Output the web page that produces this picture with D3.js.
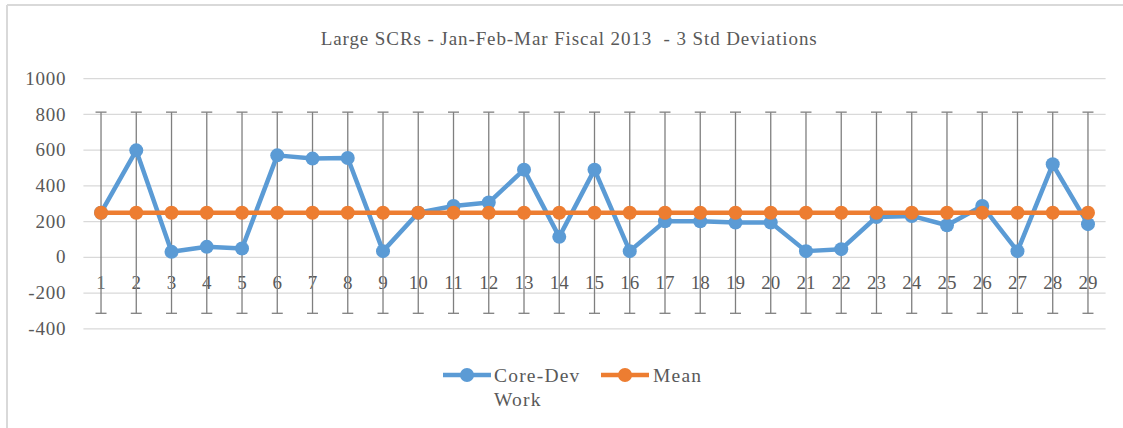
<!DOCTYPE html>
<html><head><meta charset="utf-8">
<script src="https://cdn.jsdelivr.net/npm/d3@7"></script>
<style>body{margin:0;background:#fff;}svg{display:block;}</style>
</head><body>
<svg id="c" width="1123" height="428"></svg>
<script>
const categories = ["1","2","3","4","5","6","7","8","9","10","11","12","13","14","15","16","17","18","19","20","21","22","23","24","25","26","27","28","29"];
const coreDevWork = [247,596,28,56,47,568,550,553,32,247,285,304,488,112,488,32,199,199,192,192,32,43,223,229,177,285,32,518,183];
const meanValue = 247;
const meanSeries = categories.map(() => meanValue);
const errorHigh = 810;
const errorLow = -316;
const yTicks = [-400,-200,0,200,400,600,800,1000];
const title = "Large SCRs - Jan-Feb-Mar Fiscal 2013  - 3 Std Deviations";
const seriesNames = ["Core-Dev Work","Mean"];

const svg = d3.select("#c");
const font = "'Liberation Serif','Times New Roman',serif";
const textCol = "#595959";

// chart border (left and top)
svg.append("line").attr("x1",7).attr("x2",7).attr("y1",5).attr("y2",428).attr("stroke","#d9d9d9").attr("stroke-width",2);
svg.append("line").attr("x1",7).attr("x2",1123).attr("y1",5).attr("y2",5).attr("stroke","#d9d9d9").attr("stroke-width",2);

const x = d3.scaleBand().domain(categories).range([83.4,1105.6]);
const y = d3.scaleLinear().domain([-400,1000]).range([328.3,78.2]);
const cx = d => x(d) + x.bandwidth()/2;

// gridlines + y labels
const yAxis = d3.axisLeft(y).tickValues(yTicks).tickSize(-(1105.6-83.4)).tickFormat(d => String(d)).tickPadding(17);
const gy = svg.append("g").attr("transform","translate(83.4,0)").call(yAxis)
  .attr("font-family",font).attr("font-size",19);
gy.select(".domain").remove();
gy.selectAll(".tick line").attr("stroke","#d9d9d9").attr("stroke-width",1.3);
gy.selectAll(".tick text").attr("fill",textCol).style("letter-spacing","0.8px");

// x axis labels at zero
const xAxis = d3.axisBottom(x).tickSize(0).tickPadding(19);
const gx = svg.append("g").attr("transform",`translate(0,${y(0)})`).call(xAxis)
  .attr("font-family",font).attr("font-size",19);
gx.select(".domain").remove();
gx.selectAll(".tick text").attr("fill",textCol);

// error bars on Mean series
const eb = svg.append("g").attr("stroke","#7f7f7f").attr("stroke-width",1.3);
categories.forEach(c => {
  const px = cx(c);
  eb.append("line").attr("x1",px).attr("x2",px).attr("y1",y(errorHigh)).attr("y2",y(errorLow));
  eb.append("line").attr("x1",px-5.5).attr("x2",px+5.5).attr("y1",y(errorHigh)).attr("y2",y(errorHigh));
  eb.append("line").attr("x1",px-5.5).attr("x2",px+5.5).attr("y1",y(errorLow)).attr("y2",y(errorLow));
});

const line = d3.line().x((d,i)=>cx(categories[i])).y(d=>y(d));
function drawSeries(vals,color){
  svg.append("path").datum(vals).attr("d",line).attr("fill","none").attr("stroke",color).attr("stroke-width",4.5).attr("stroke-linejoin","round");
  svg.append("g").selectAll("circle").data(vals).join("circle")
    .attr("cx",(d,i)=>cx(categories[i])).attr("cy",d=>y(d)).attr("r",7).attr("fill",color);
}
drawSeries(coreDevWork,"#5b9bd5");
drawSeries(meanSeries,"#ed7d31");

// title
svg.append("text").attr("x",320.7).attr("y",45).attr("fill",textCol)
  .attr("textLength",496).attr("lengthAdjust","spacing").attr("xml:space","preserve")
  .style("white-space","pre")
  .style("font-family",font).style("font-size","19px").text(title);

// legend
const legend = [{name:seriesNames[0],color:"#5b9bd5",x:443},{name:seriesNames[1],color:"#ed7d31",x:601}];
legend.forEach(l=>{
  const g = svg.append("g");
  g.append("line").attr("x1",l.x).attr("x2",l.x+48).attr("y1",375).attr("y2",375).attr("stroke",l.color).attr("stroke-width",4.5);
  g.append("circle").attr("cx",l.x+24).attr("cy",375).attr("r",7).attr("fill",l.color);
});
const t1 = svg.append("text").attr("x",494).attr("y",382).attr("fill",textCol).style("font-family",font).style("font-size","19.5px").style("letter-spacing","1.2px");
t1.append("tspan").attr("x",494).text("Core-Dev");
t1.append("tspan").attr("x",494).attr("dy",24).text("Work");
svg.append("text").attr("x",653).attr("y",382).attr("fill",textCol).style("font-family",font).style("font-size","19.5px").style("letter-spacing","1.2px").text(seriesNames[1]);
</script>
</body></html>
